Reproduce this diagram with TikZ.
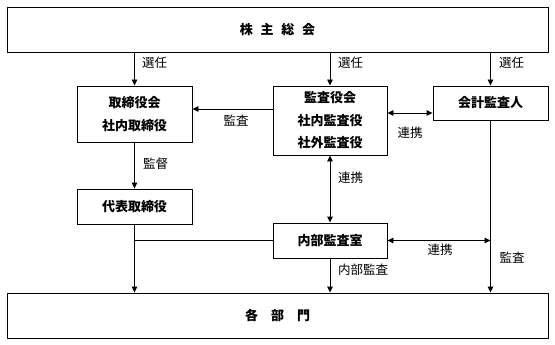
\documentclass[tikz,border=0pt]{standalone}
\usepackage{fontspec}
\newfontfamily\cjk{Noto Sans CJK JP}
\usetikzlibrary{arrows.meta}
\begin{document}
\begin{tikzpicture}[x=1pt,y=-1pt,
  box/.style={draw,line width=0.9pt,inner sep=0pt,align=center,font=\cjk\bfseries\fontsize{13}{22.5}\selectfont},
  lbl/.style={font=\cjk\fontsize{12.5}{14}\selectfont,inner sep=0pt},
  arr/.style={line width=0.9pt,-{Triangle[length=6pt,width=5.5pt]}},
  darr/.style={line width=0.9pt,{Triangle[length=6pt,width=5.5pt]}-{Triangle[length=6pt,width=5.5pt]}},
  ln/.style={line width=0.9pt}]
\useasboundingbox (0,0) rectangle (555,345);
\node[box,minimum width=541pt,minimum height=45pt] (top) at (277.5,29.5) {株\hspace{0.6em}主\hspace{0.6em}総\hspace{0.6em}会};
\node[box,minimum width=115pt,minimum height=56pt] (tori) at (134.5,114) {取締役会\\社内取締役};
\node[box,minimum width=114pt,minimum height=69pt] (kansa) at (330,120.5) {監査役会\\社内監査役\\社外監査役};
\node[box,minimum width=115pt,minimum height=34pt] (kaikei) at (490.5,103) {会計監査人};
\node[box,minimum width=115pt,minimum height=35pt] (daihyo) at (134.5,206.5) {代表取締役};
\node[box,minimum width=114pt,minimum height=35pt] (naibu) at (330,240.5) {内部監査室};
\node[box,minimum width=541pt,minimum height=45pt] (kaku) at (277.5,315.5) {各\hspace{1em}部\hspace{1em}門};
% selection arrows
\draw[arr] (tori.north |- top.south) -- (tori.north);
\draw[arr] (kansa.north |- top.south) -- (kansa.north);
\draw[arr] (kaikei.north |- top.south) -- (kaikei.north);
\node[lbl,anchor=west] (l1) at (142,63) {選任};
\node[lbl,anchor=west] (l2) at (338,63) {選任};
\node[lbl,anchor=west] (l3) at (499,63) {選任};
% audit to board
\coordinate (ta) at ([yshift=5pt]tori.east);
\draw[arr] (kansa.west |- ta) -- (ta);
\node[lbl] (l4) at (236,121) {監査};
% kansa <-> kaikei
\coordinate (kb) at ([yshift=-10pt]kaikei.west);
\draw[darr] (kansa.east |- kb) -- (kb);
\node[lbl] (l5) at (410,133) {連携};
% supervision
\draw[arr] (tori.south) -- (daihyo.north);
\node[lbl,anchor=west] (l6) at (143,164) {監督};
% daihyo to kaku
\draw[arr] (daihyo.south) -- (daihyo.south |- kaku.north);
\draw[ln] (daihyo.south |- naibu.west) -- (naibu.west);
% kansa <-> naibu
\draw[darr] (kansa.south) -- (naibu.north);
\node[lbl,anchor=west] (l7) at (338,178) {連携};
% naibu <-> kaikei line
\coordinate (nk) at (kaikei.south |- naibu.east);
\draw[darr] (naibu.east) -- (nk);
\node[lbl] (l8) at (440,250) {連携};
% internal audit
\draw[arr] (naibu.south) -- (naibu.south |- kaku.north);
\node[lbl,anchor=west] (l9) at (338,270) {内部監査};
% kaikei audit
\draw[arr] (kaikei.south) -- (kaikei.south |- kaku.north);
\node[lbl] (l10) at (512,258) {監査};
\end{tikzpicture}
\end{document}
